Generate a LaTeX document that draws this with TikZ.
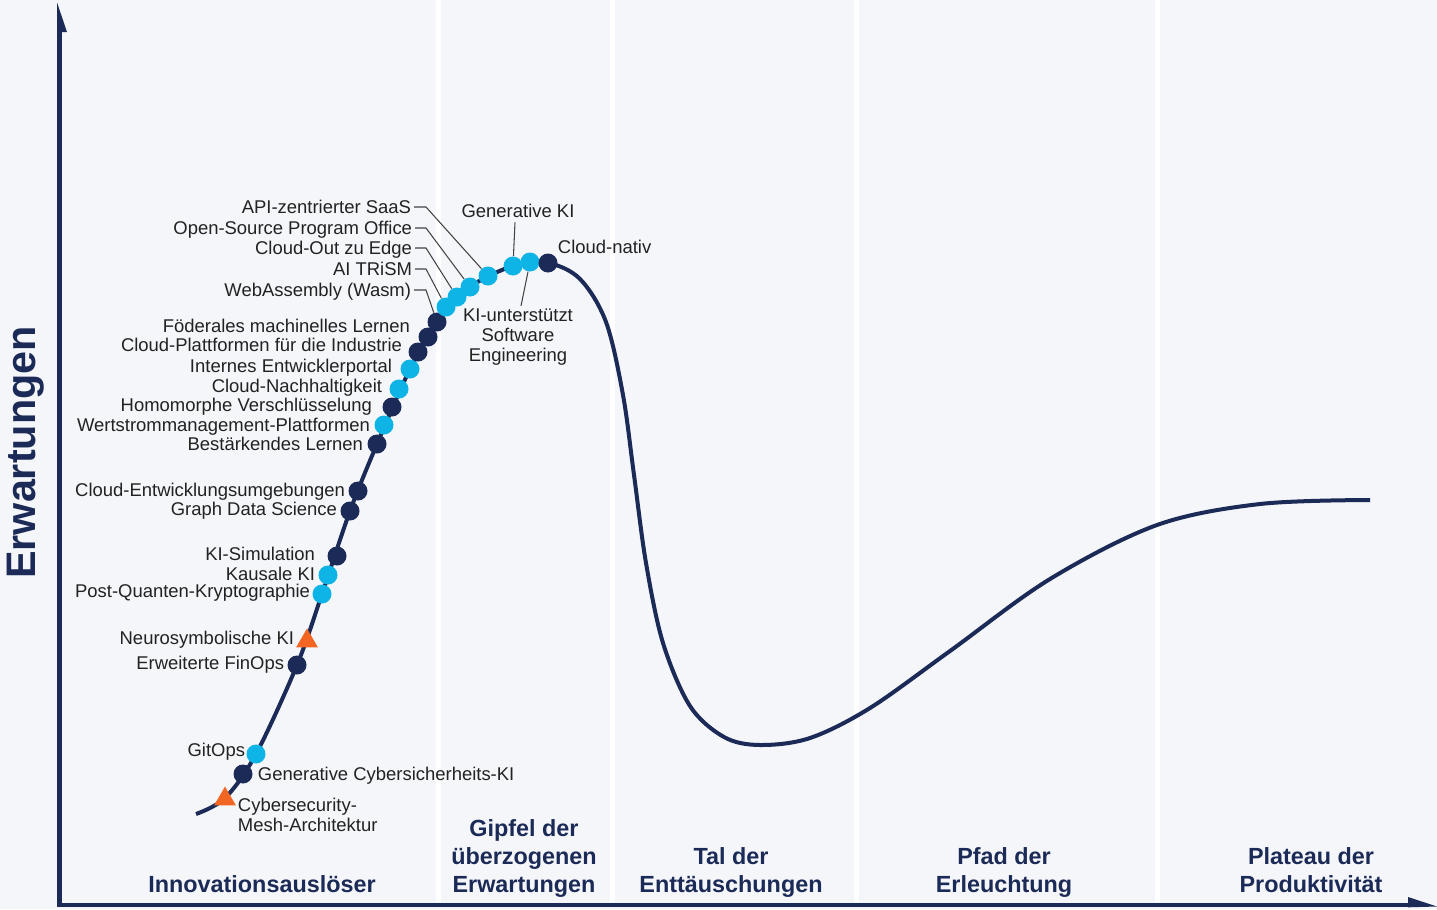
\documentclass[tikz,border=0pt]{standalone}
\usepackage{fontspec}
\setmainfont{Liberation Sans}
\usetikzlibrary{shapes.geometric,positioning}

\definecolor{hcnavy}{RGB}{27,42,86}
\definecolor{hcblue}{RGB}{14,180,230}
\definecolor{hcorange}{RGB}{242,101,34}
\definecolor{hcbg}{RGB}{244,246,249}
\definecolor{hctext}{RGB}{34,34,34}

\begin{document}
\begin{tikzpicture}[x=0.2mm,y=-0.2mm]
    \tikzstyle{dot}=[circle,minimum size=3.8mm,inner sep=0pt]
    \tikzstyle{dark dot}=[dot,fill=hcnavy]
    \tikzstyle{light dot}=[dot,fill=hcblue]
    \tikzstyle{tri dot}=[regular polygon,regular polygon sides=3,fill=hcorange,minimum size=5mm,inner sep=0pt]
    \tikzstyle{lbltext}=[font=\fontsize{10.5}{11.3}\selectfont,text=hctext,inner sep=1.5pt]
    \tikzstyle{lbl}=[lbltext,text height=8.5pt,text depth=1pt]
    \tikzstyle{leader}=[draw=hctext!85,line width=0.6pt]
    \tikzstyle{phase}=[font=\fontsize{13.3}{15.9}\selectfont\bfseries,text=hcnavy,align=center,anchor=south,inner sep=0pt]
    \tikzstyle{axis}=[draw=hcnavy,line width=0.9mm]
    \tikzstyle{hype}=[draw=hcnavy,line width=0.8mm]
    \tikzstyle{sep}=[draw=white,line width=1mm]

    % Background and phase separators
    \useasboundingbox (0,0) rectangle (1437,909);
    \fill[hcbg] (0,0) rectangle (1437,909);
    \foreach \x in {438,612,856,1157}
        \draw[sep] (\x,0) -- (\x,902);

    % Axes
    \coordinate (origin) at (59.5,905);
    \coordinate (ytop) at (59.5,20);
    \coordinate (xend) at (1415,905);
    \draw[axis] (origin) -- (ytop);
    \fill[hcnavy] (57.2,3) -- (67,32) -- (57.2,32) -- cycle;
    \draw[axis] ([xshift=-0.45mm]origin) -- (xend);
    \fill[hcnavy] (1408,897) -- (1437,906.5) -- (1408,907.3) -- cycle;
    \node[rotate=90,anchor=north,inner sep=0pt,text=hcnavy,
          font=\fontsize{23.5}{25}\selectfont\bfseries] (ylab) at (6.5,452.5) {Erwartungen};

    % The hype curve
    \draw[hype] plot[smooth,tension=0.55] coordinates {
        (196,814) (225,798) (256,754) (297,665) (322,594) (350,511)
        (377,444) (410,369) (437,322) (470,287) (513,266) (548,263)
        (580,279) (606,322) (623,395) (634,475) (646,563) (663,643)
        (690,706) (724,737) (760,745) (810,738) (870,708) (950,651)
        (1050,579) (1157,525) (1260,504) (1370,500)};

    % Technologies on the curve
    \node[tri dot]   (t-csma)   at (225,799) {};
    \node[dark dot]  (d-gcs)    at (243,774) {};
    \node[light dot] (d-gitops) at (256,754) {};
    \node[dark dot]  (d-finops) at (297,665) {};
    \node[tri dot]   (t-nsk)    at (307,641) {};
    \node[light dot] (d-pqk)    at (322,594) {};
    \node[light dot] (d-kki)    at (328,575) {};
    \node[dark dot]  (d-kisim)  at (337,556) {};
    \node[dark dot]  (d-graph)  at (350,511) {};
    \node[dark dot]  (d-cde)    at (358,491) {};
    \node[dark dot]  (d-bl)     at (377,444) {};
    \node[light dot] (d-wsm)    at (384,425) {};
    \node[dark dot]  (d-hom)    at (392,407) {};
    \node[light dot] (d-cnh)    at (399,389) {};
    \node[light dot] (d-iep)    at (410,369) {};
    \node[dark dot]  (d-cpi)    at (418,352) {};
    \node[dark dot]  (d-fml)    at (428,337) {};
    \node[dark dot]  (d-wasm)   at (437,322) {};
    \node[light dot] (d-trism)  at (446,307) {};
    \node[light dot] (d-coe)    at (457,297) {};
    \node[light dot] (d-ospo)   at (470,287) {};
    \node[light dot] (d-api)    at (488,276) {};
    \node[light dot] (d-genki)  at (513,266) {};
    \node[light dot] (d-kisw)   at (530,262) {};
    \node[dark dot]  (d-cn)     at (548,263) {};

    % Labels
    \node[lbltext,anchor=west,align=left] (l-csma) at (235,815) {Cybersecurity-\\Mesh-Architektur};
    \node[lbl,anchor=west] (l-gcs) at (255,774) {Generative Cybersicherheits-KI};
    \node[lbl,anchor=east] (l-gitops) at (248,750) {GitOps};
    \node[lbl,anchor=east] (l-finops) at (287,663) {Erweiterte FinOps};
    \node[lbl,anchor=east] (l-nsk) at (297,638) {Neurosymbolische KI};
    \node[lbl,anchor=east] (l-pqk) at (313,591) {Post-Quanten-Kryptographie};
    \node[lbl,anchor=east] (l-kki) at (318,574) {Kausale KI};
    \node[lbl,anchor=east] (l-kisim) at (318,554) {KI-Simulation};
    \node[lbl,anchor=east] (l-graph) at (340,509) {Graph Data Science};
    \node[lbl,anchor=east] (l-cde) at (348,490) {Cloud-Entwicklungsumgebungen};
    \node[lbl,anchor=east] (l-bl) at (366,444) {Bestärkendes Lernen};
    \node[lbl,anchor=east] (l-wsm) at (373,425) {Wertstrommanagement-Plattformen};
    \node[lbl,anchor=east] (l-hom) at (375,405) {Homomorphe Verschlüsselung};
    \node[lbl,anchor=east] (l-cnh) at (385,386) {Cloud-Nachhaltigkeit};
    \node[lbl,anchor=east] (l-iep) at (395,366) {Internes Entwicklerportal};
    \node[lbl,anchor=east] (l-cpi) at (405,345) {Cloud-Plattformen für die Industrie};
    \node[lbl,anchor=east] (l-fml) at (413,326) {Föderales machinelles Lernen};
    \node[lbl,anchor=east] (l-wasm) at (414,290) {WebAssembly (Wasm)};
    \node[lbl,anchor=east] (l-trism) at (415,269) {AI TRiSM};
    \node[lbl,anchor=east] (l-coe) at (415,248) {Cloud-Out zu Edge};
    \node[lbl,anchor=east] (l-ospo) at (415,228) {Open-Source Program Office};
    \node[lbl,anchor=east] (l-api) at (414,207) {API-zentrierter SaaS};
    \node[lbl] (l-genki) at (518,211) {Generative KI};
    \node[lbltext,align=center] (l-kisw) at (518,337) {KI-unterstützt\\Software\\Engineering};
    \node[lbl,anchor=west] (l-cn) at (555,247) {Cloud-nativ};

    % Leader lines
    \draw[leader] (l-wasm.east) -- ++(12,0) -- (d-wasm);
    \draw[leader] (l-trism.east) -- ++(11,0) -- (d-trism);
    \draw[leader] (l-coe.east) -- ++(11,0) -- (d-coe);
    \draw[leader] (l-ospo.east) -- ++(11,0) -- (d-ospo);
    \draw[leader] (l-api.east) -- ++(12,0) -- (d-api);
    \draw[leader] ([xshift=-0.6mm]l-genki.south) -- (d-genki);
    \draw[leader] ([xshift=0.6mm]l-kisw.north) -- (d-kisw);

    % Phases of the hype cycle
    \node[phase] (p-trigger) at (262,901) {Innovationsauslöser\strut};
    \node[phase] (p-peak) at (524,901) {Gipfel der\\überzogenen\\Erwartungen\strut};
    \node[phase] (p-trough) at (731,901) {Tal der\\Enttäuschungen\strut};
    \node[phase] (p-slope) at (1004,901) {Pfad der\\Erleuchtung\strut};
    \node[phase] (p-plateau) at (1311,901) {Plateau der\\Produktivität\strut};
\end{tikzpicture}
\end{document}
